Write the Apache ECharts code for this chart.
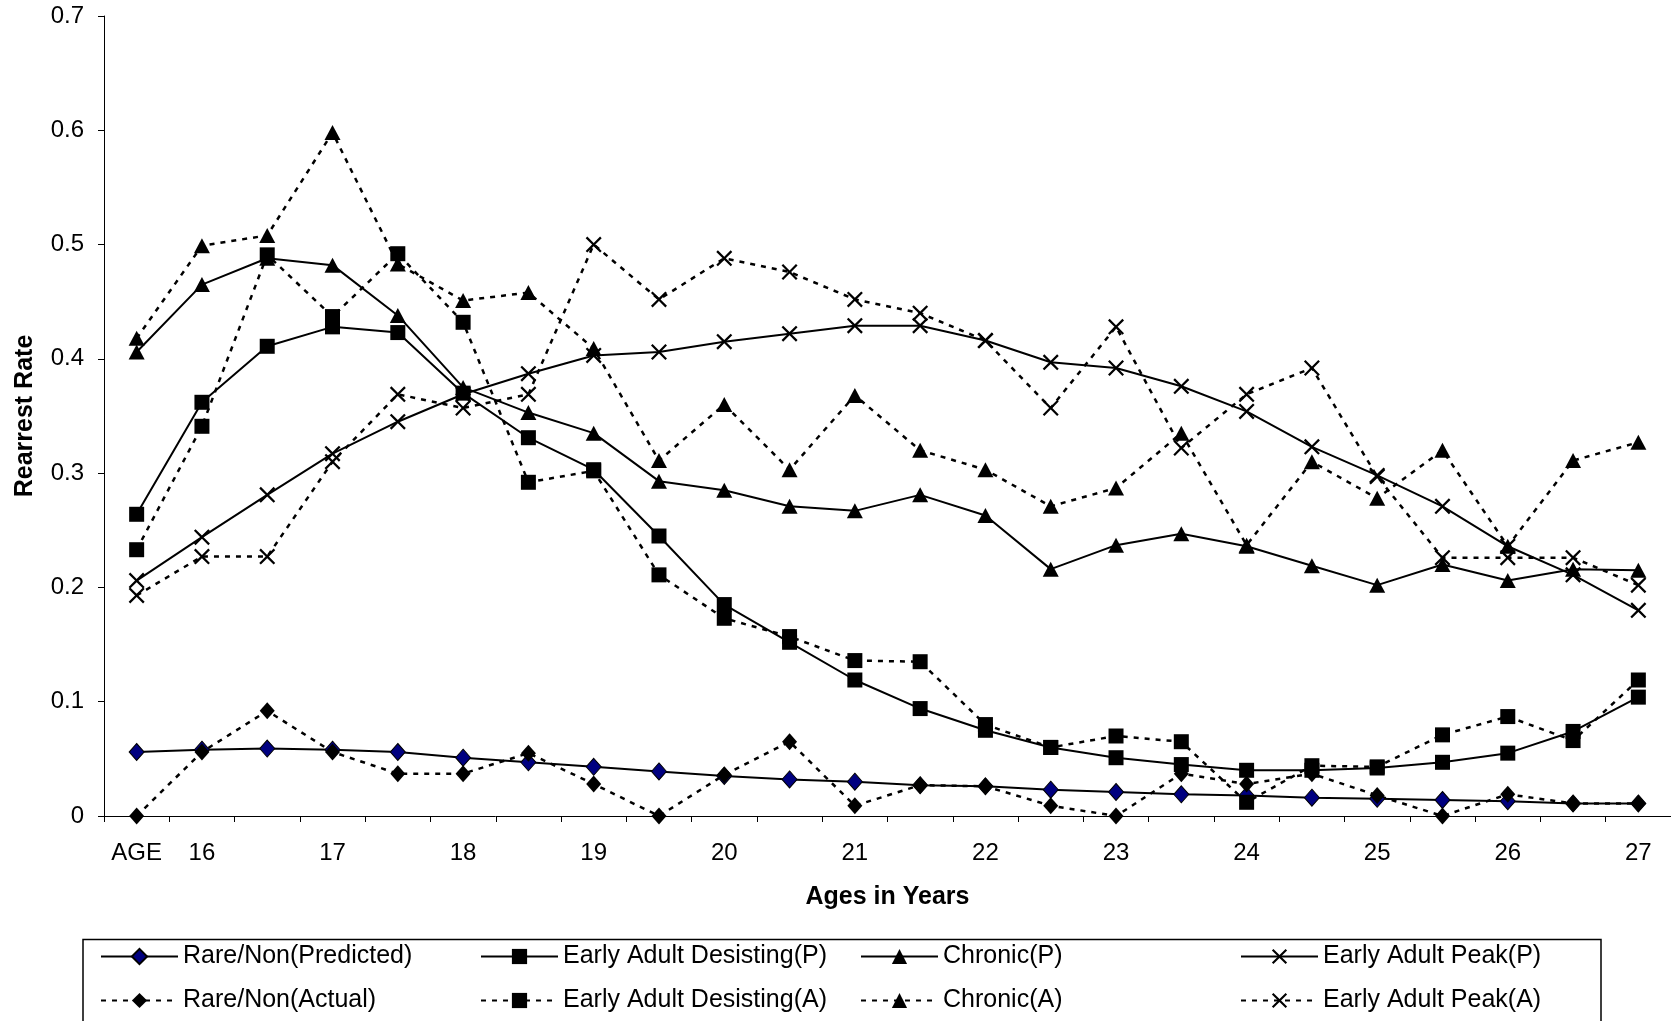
<!DOCTYPE html>
<html>
<head>
<meta charset="utf-8">
<script src="https://cdn.jsdelivr.net/npm/echarts@6/dist/echarts.min.js"></script>
<style>
html,body{margin:0;padding:0;background:#fff;}
#chart{width:1671px;height:1021px;}
</style>
</head>
<body>
<div id="chart"></div>
<script>
// Categories (ages); half-year positions have no printed label
const categories = ['AGE','16','16.5','17','17.5','18','18.5','19','19.5','20','20.5','21','21.5','22','22.5','23','23.5','24','24.5','25','25.5','26','26.5','27'];
const yTicks = [0, 0.1, 0.2, 0.3, 0.4, 0.5, 0.6, 0.7];

const rareP = [0.056, 0.058, 0.059, 0.058, 0.056, 0.051, 0.047, 0.043, 0.039, 0.035, 0.032, 0.030, 0.027, 0.026, 0.023, 0.021, 0.019, 0.018, 0.016, 0.015, 0.014, 0.013, 0.011, 0.011];
const eadP  = [0.264, 0.362, 0.411, 0.428, 0.423, 0.370, 0.331, 0.303, 0.245, 0.185, 0.152, 0.119, 0.094, 0.075, 0.060, 0.051, 0.045, 0.040, 0.040, 0.042, 0.047, 0.055, 0.074, 0.104];
const chrP  = [0.406, 0.465, 0.488, 0.482, 0.438, 0.375, 0.353, 0.335, 0.293, 0.285, 0.271, 0.267, 0.281, 0.263, 0.216, 0.237, 0.247, 0.236, 0.219, 0.202, 0.220, 0.206, 0.216, 0.215];
const eapP  = [0.206, 0.244, 0.281, 0.317, 0.345, 0.369, 0.387, 0.403, 0.406, 0.415, 0.422, 0.429, 0.429, 0.416, 0.397, 0.392, 0.376, 0.354, 0.323, 0.298, 0.271, 0.236, 0.211, 0.180];
const rareA = [0, 0.056, 0.092, 0.056, 0.037, 0.037, 0.055, 0.028, 0, 0.036, 0.065, 0.009, 0.027, 0.026, 0.009, 0, 0.037, 0.028, 0.037, 0.018, 0, 0.019, 0.011, 0.011];
const eadA  = [0.233, 0.341, 0.491, 0.437, 0.492, 0.432, 0.292, 0.302, 0.211, 0.173, 0.157, 0.136, 0.135, 0.080, 0.060, 0.070, 0.065, 0.012, 0.044, 0.043, 0.071, 0.087, 0.066, 0.119];
const chrA  = [0.418, 0.499, 0.508, 0.598, 0.483, 0.451, 0.458, 0.409, 0.311, 0.360, 0.303, 0.368, 0.320, 0.303, 0.271, 0.287, 0.335, 0.237, 0.310, 0.278, 0.320, 0.236, 0.311, 0.327];
const eapA  = [0.193, 0.227, 0.227, 0.310, 0.369, 0.357, 0.369, 0.500, 0.452, 0.488, 0.476, 0.452, 0.440, 0.416, 0.357, 0.428, 0.322, 0.369, 0.392, 0.297, 0.226, 0.226, 0.226, 0.202];

const seriesNames = ['Rare/Non(Predicted)','Early Adult Desisting(P)','Chronic(P)','Early Adult Peak(P)',
                     'Rare/Non(Actual)','Early Adult Desisting(A)','Chronic(A)','Early Adult Peak(A)'];
const seriesData = [rareP, eadP, chrP, eapP, rareA, eadA, chrA, eapA];

const FONT = 'Arial, "Liberation Sans", Helvetica, sans-serif';
const X_PATH = 'path://M0,10L10,0L50,40L90,0L100,10L60,50L100,90L90,100L50,60L10,100L0,90L40,50Z';

const markers = [
  {symbol:'diamond', size:[15,17], color:'#000080'},
  {symbol:'rect', size:[15,15], color:'#000'},
  {symbol:'triangle', size:[16,15], color:'#000'},
  {symbol:X_PATH, size:[16,16], color:'#000'},
  {symbol:'diamond', size:[15,17], color:'#000'},
  {symbol:'rect', size:[15,15], color:'#000'},
  {symbol:'triangle', size:[16,15], color:'#000'},
  {symbol:X_PATH, size:[16,16], color:'#000'}
];

const series = seriesNames.map((name, k) => {
  const dotted = k >= 4;
  const m = markers[k];
  return {
    name: name,
    type: 'line',
    data: seriesData[k],
    symbol: m.symbol,
    symbolSize: m.size,
    showAllSymbol: true,
    lineStyle: {color:'#000', width: dotted ? 2.5 : 2, type: dotted ? [5,6] : 'solid'},
    itemStyle: {color: m.color, borderColor:'#000', borderWidth: (k === 0) ? 1 : 0},
    emphasis: {disabled: true},
    z: 2
  };
});

const colLeft = [100, 480, 860, 1240];
const rowTop = [944, 988];
const legends = seriesNames.map((name, k) => ({
  data: [name],
  left: colLeft[k % 4],
  top: rowTop[Math.floor(k / 4)],
  orient: 'horizontal',
  padding: 0,
  itemWidth: 77,
  itemHeight: 19,
  selectedMode: false,
  textStyle: {fontFamily: FONT, fontSize: 25, color: '#000'}
}));

const chart = echarts.init(document.getElementById('chart'), null, {renderer:'canvas'});
chart.setOption({
  animation: false,
  backgroundColor: '#fff',
  grid: {left: 104, right: 0, top: 16, bottom: 205, containLabel: false},
  legend: legends,
  xAxis: {
    type: 'category',
    data: categories,
    boundaryGap: true,
    name: 'Ages in Years',
    nameLocation: 'middle',
    nameGap: 69,
    nameTextStyle: {fontFamily: FONT, fontSize: 25, fontWeight: 'bold', color: '#000'},
    axisLine: {lineStyle: {color: '#000', width: 1}},
    axisTick: {show: true, interval: 0, length: 6, lineStyle: {color: '#000'}},
    axisLabel: {
      interval: 0, margin: 25, fontFamily: FONT, fontSize: 24, color: '#000',
      formatter: v => (v.indexOf('.') >= 0 ? '' : v)
    },
    splitLine: {show: false}
  },
  yAxis: {
    type: 'value',
    min: yTicks[0],
    max: yTicks[yTicks.length - 1],
    interval: 0.1,
    name: 'Rearrest Rate',
    nameLocation: 'middle',
    nameGap: 66,
    nameRotate: 90,
    nameTextStyle: {fontFamily: FONT, fontSize: 25, fontWeight: 'bold', color: '#000'},
    axisLine: {show: true, lineStyle: {color: '#000', width: 1}},
    axisTick: {show: true, length: 6, lineStyle: {color: '#000'}},
    axisLabel: {margin: 20, fontFamily: FONT, fontSize: 24, color: '#000',
      formatter: v => String(Math.round(v * 10) / 10)},
    splitLine: {show: false}
  },
  graphic: [{
    type: 'rect',
    shape: {x: 83, y: 939.5, width: 1518, height: 120},
    style: {fill: 'none', stroke: '#000', lineWidth: 1.5},
    silent: true,
    z: 0
  }],
  series: series
});
</script>
</body>
</html>
